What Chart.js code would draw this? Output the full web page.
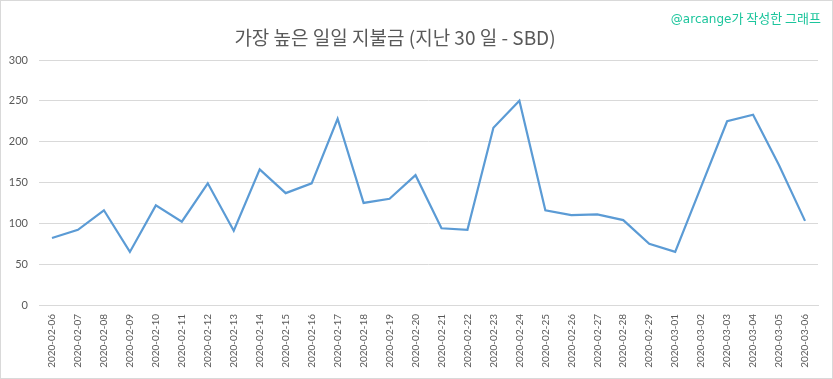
<!DOCTYPE html>
<html>
<head>
<meta charset="utf-8">
<script src="https://cdn.jsdelivr.net/npm/chart.js@4/dist/chart.umd.min.js"></script>
<style>
  html,body{margin:0;padding:0;background:#fff;}
  #wrap{position:relative;width:833px;height:379px;overflow:hidden;}
  #frame{position:absolute;left:0;top:0;width:831px;height:377px;border:1px solid #d9d9d9;pointer-events:none;}
  canvas{position:absolute;left:0;top:0;}
  #title{position:absolute;left:0;width:790px;top:24px;text-align:center;font-family:"Noto Sans CJK KR","Noto Sans",sans-serif;font-size:19px;color:#595959;line-height:26px;white-space:nowrap;}
  #mark{position:absolute;right:12px;top:8px;font-family:"DejaVu Sans",sans-serif;font-size:12px;color:#1cc59c;white-space:nowrap;}
  #mark .kr{font-family:"Noto Sans CJK KR",sans-serif;font-size:13px;}
</style>
</head>
<body>
<div id="wrap">
  <canvas id="c" width="833" height="379"></canvas>
  <div id="title">가장 높은 일일 지불금 (지난 30 일 - SBD)</div>
  <div id="mark">@arcange<span class="kr">가 작성한 그래프</span></div>
  <div id="frame"></div>
</div>
<script>
const categories = ["2020-02-06","2020-02-07","2020-02-08","2020-02-09","2020-02-10","2020-02-11","2020-02-12","2020-02-13","2020-02-14","2020-02-15","2020-02-16","2020-02-17","2020-02-18","2020-02-19","2020-02-20","2020-02-21","2020-02-22","2020-02-23","2020-02-24","2020-02-25","2020-02-26","2020-02-27","2020-02-28","2020-02-29","2020-03-01","2020-03-02","2020-03-03","2020-03-04","2020-03-05","2020-03-06"];
const payouts = [82,92,116,65,122,102,149,91,166,137,149,228,125,130,159,94,92,217,250,116,110,111,104,75,65,145,225,233,171,103];
const yTicks = [0,50,100,150,200,250,300];

new Chart(document.getElementById('c'), {
  type: 'line',
  data: {
    labels: categories,
    datasets: [{
      data: payouts,
      borderColor: '#5b9bd5',
      borderWidth: 2.2,
      pointRadius: 0,
      tension: 0,
      fill: false
    }]
  },
  options: {
    responsive: false,
    animation: false,
    layout: { padding: { left: 0, right: 15, top: 60, bottom: 0 } },
    plugins: { legend: { display: false }, title: { display: false }, tooltip: { enabled: false } },
    scales: {
      x: {
        offset: true,
        grid: { display: false, drawTicks: false },
        border: { display: true, color: '#d9d9d9', width: 1 },
        ticks: {
          autoSkip: false, maxRotation: 90, minRotation: 90, padding: 9,
          color: '#595959', font: { family: 'Lato, "Liberation Sans", sans-serif', size: 10 }
        },
        afterFit: s => { s.height = 74; }
      },
      y: {
        min: 0, max: 300,
        afterBuildTicks: s => { s.ticks = yTicks.map(v => ({ value: v })); },
        grid: { color: '#d9d9d9', drawTicks: false, lineWidth: 1 },
        border: { display: false },
        ticks: {
          padding: 11, color: '#595959',
          font: { family: 'Lato, "Liberation Sans", sans-serif', size: 11 }
        },
        afterFit: s => { s.width = 39; }
      }
    }
  }
});
</script>
</body>
</html>
